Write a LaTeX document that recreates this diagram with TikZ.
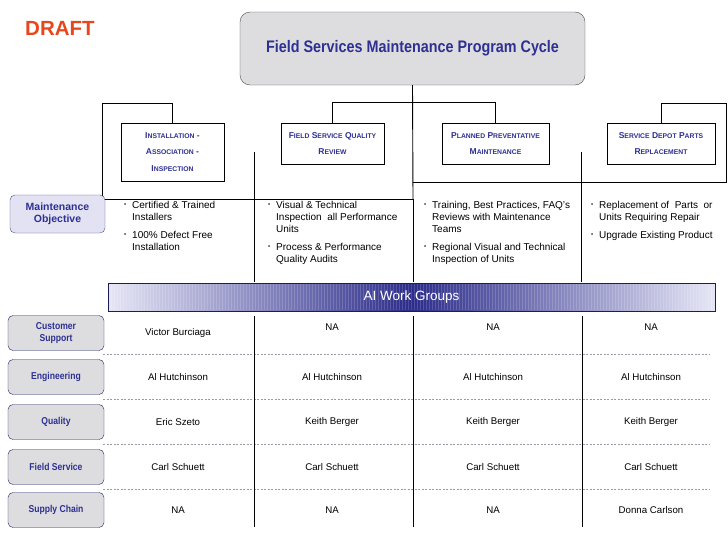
\documentclass[tikz,border=0pt]{standalone}
\usepackage{fontspec}
\setmainfont{Liberation Sans}
\newfontfamily\condfont[FakeStretch=0.86]{Liberation Sans}
\usetikzlibrary{positioning}

\definecolor{navy}{HTML}{2E3092}
\definecolor{draftred}{HTML}{E8471C}
\definecolor{boxgray}{HTML}{DDDDE0}
\definecolor{objfill}{HTML}{E2E2F2}
\definecolor{barlight}{HTML}{E6E6F6}
\definecolor{bardark}{HTML}{2C2C8A}
\definecolor{dashgray}{HTML}{9A9AAA}

% small caps made by hand
\newcommand{\smc}[1]{{\fontsize{6.8}{7}\selectfont\MakeUppercase{#1}}}
\newcommand{\bul}{\llap{\raisebox{1.5pt}{\fontsize{6}{6}\selectfont\textbullet}\hspace{6pt}}}

\begin{document}
\begin{tikzpicture}[x=1pt,y=-1pt,font=\fontsize{9.7}{11}\selectfont,
  titlebox/.style={draw=black!70, fill=boxgray, rounded corners=10pt,
    minimum width=345pt, minimum height=73pt, text=navy,
    font=\condfont\bfseries\fontsize{16.7}{18}\selectfont},
  phasebox/.style={draw, line width=0.9pt, fill=white, text=navy, align=center,
    inner sep=0pt, font=\bfseries\fontsize{8.5}{16.5}\selectfont},
  objbox/.style={draw=navy!60!gray, fill=objfill, rounded corners=5pt,
    minimum width=95pt, minimum height=38pt, align=center, text=navy,
    font=\bfseries\fontsize{10.5}{12}\selectfont},
  rowlabel/.style={draw=navy!70!black, fill=boxgray, rounded corners=5pt,
    minimum width=96pt, minimum height=35pt, align=center, text=navy,
    font=\condfont\bfseries\fontsize{10}{12.5}\selectfont},
  bullets/.style={anchor=north west, align=left, inner sep=0pt,
    font=\fontsize{10}{12}\selectfont},
  wgbar/.style={draw=navy!60!black, left color=barlight, right color=barlight,
    middle color=bardark, minimum width=607pt, minimum height=28pt,
    text=white, font=\fontsize{13.5}{15}\selectfont},
  rowsep/.style={draw=dashgray, dash pattern=on 2pt off 1.5pt, line width=0.6pt},
  tree/.style={line width=0.9pt},
  colsep/.style={line width=0.8pt}]
  \fill[white] (0,0) rectangle (728,546);
  \useasboundingbox (0,0) rectangle (728,546);

  \node[text=draftred, font=\bfseries\fontsize{20.5}{21}\selectfont, anchor=west, inner sep=0pt] (draft) at (25,28) {DRAFT};
  \node[titlebox] (title) at (412.5,48.5) {Field Services Maintenance Program Cycle};

  % program phases
  \node[phasebox, minimum width=103pt, minimum height=58pt] (ph1) at (172.5,152)
    {I\smc{nstallation} -\\A\smc{ssociation} -\\I\smc{nspection}};
  \node[phasebox, minimum width=103pt, minimum height=41pt] (ph2) at (332.5,143.5)
    {F\smc{ield} S\smc{ervice} Q\smc{uality}\\R\smc{eview}};
  \node[phasebox, minimum width=107pt, minimum height=41pt] (ph3) at (495.5,143.5)
    {P\smc{lanned} P\smc{reventative}\\M\smc{aintenance}};
  \node[phasebox, minimum width=108pt, minimum height=41pt] (ph4) at (661,143.5)
    {S\smc{ervice} D\smc{epot} P\smc{arts}\\R\smc{eplacement}};

  \coordinate (ltop) at (102,103);
  \coordinate (lbot) at (102,199);
  \coordinate (midjoin) at (413,199);
  \coordinate (rjoin) at (413,182);
  \coordinate (rtop) at (726,103);
  \coordinate (rbot) at (726,182);

  \draw[tree] (title.south) -- (midjoin);
  \draw[tree] (ph1.north) |- (ltop) -- (lbot) -- (midjoin);
  \draw[tree] (ph2.north) -- ++(0,-20) -| (ph3.north);
  \draw[tree] (ph4.north) |- (rtop) -- (rbot) -- (rjoin);
  \draw[tree] (254,152) -- (254,282);
  \draw[tree] (581,152) -- (581,282);
  \draw[tree] (midjoin) -- (413,282);

  % objectives
  \node[objbox] (obj) at (57.5,214) {Maintenance\\Objective};
  \node[bullets] (obj1) at (132,201) {\bul Certified \& Trained\\Installers\\[6pt]\bul 100\% Defect Free\\Installation};
  \node[bullets] (obj2) at (276,201) {\bul Visual \& Technical\\Inspection\ \ all Performance\\Units\\[6pt]\bul Process \& Performance\\Quality Audits};
  \node[bullets] (obj3) at (432,201) {\bul Training, Best Practices, FAQ's\\Reviews with Maintenance\\Teams\\[6pt]\bul Regional Visual and Technical\\Inspection of Units};
  \node[bullets] (obj4) at (599,201) {\bul Replacement of\ \ Parts\ \ or\\Units Requiring Repair\\[6pt]\bul Upgrade Existing Product};

  \node[wgbar] (wg) at (411.5,297) {AI Work Groups};
  \foreach \sx in {111,114,...,713}
    \draw[white, opacity=0.16, line width=0.8pt] (\sx,284) -- (\sx,310);

  % work groups
  \node[rowlabel] (cust) at (56,333) {Customer\\Support};
  \node[rowlabel] (eng) at (56,377) {Engineering};
  \node[rowlabel] (qual) at (56,422) {Quality};
  \node[rowlabel] (fs) at (56,467) {Field Service};
  \node[rowlabel] (sc) at (56,510) {Supply Chain};

  \draw[rowsep] (103,354) -- (710,354);
  \draw[rowsep] (103,399) -- (710,399);
  \draw[rowsep] (103,444) -- (710,444);
  \draw[rowsep] (103,489) -- (710,489);
  \draw[colsep] (254,316) -- (254,527);
  \draw[colsep] (413,316) -- (413,527);
  \draw[colsep] (582,316) -- (582,527);

  \node (cust1) at (178,333) {Victor Burciaga};
  \node (cust2) at (332,327) {NA};
  \node (cust3) at (493,327) {NA};
  \node (cust4) at (651,327) {NA};
  \node (eng1) at (178,377) {Al Hutchinson};
  \node (eng2) at (332,377) {Al Hutchinson};
  \node (eng3) at (493,377) {Al Hutchinson};
  \node (eng4) at (651,377) {Al Hutchinson};
  \node (qual1) at (178,422) {Eric Szeto};
  \node (qual2) at (332,422) {Keith Berger};
  \node (qual3) at (493,422) {Keith Berger};
  \node (qual4) at (651,422) {Keith Berger};
  \node (fs1) at (178,467) {Carl Schuett};
  \node (fs2) at (332,467) {Carl Schuett};
  \node (fs3) at (493,467) {Carl Schuett};
  \node (fs4) at (651,467) {Carl Schuett};
  \node (sc1) at (178,510) {NA};
  \node (sc2) at (332,510) {NA};
  \node (sc3) at (493,510) {NA};
  \node (sc4) at (651,510) {Donna Carlson};
\end{tikzpicture}
\end{document}
